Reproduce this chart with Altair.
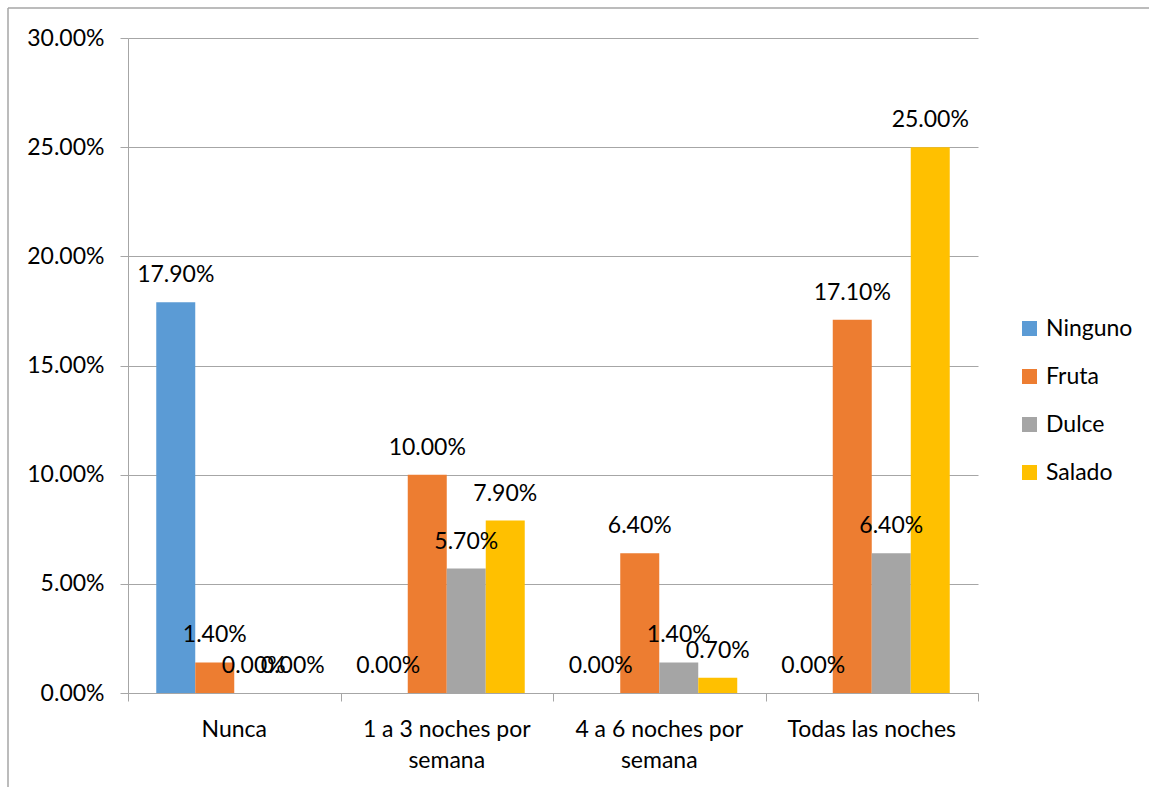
import altair as alt
import pandas as pd

# Frecuencia de consumo nocturno por tipo de alimento
categorias = ["Nunca", "1 a 3 noches por semana", "4 a 6 noches por semana", "Todas las noches"]
etiquetas_categoria = ["Nunca", "1 a 3 noches por|semana", "4 a 6 noches por|semana", "Todas las noches"]
series = ["Ninguno", "Fruta", "Dulce", "Salado"]
ninguno = [0.179, 0.0, 0.0, 0.0]
fruta = [0.014, 0.100, 0.064, 0.171]
dulce = [0.0, 0.057, 0.014, 0.064]
salado = [0.0, 0.079, 0.007, 0.250]
colores = ["#5B9BD5", "#ED7D31", "#A5A5A5", "#FFC000"]

rows = []
for serie, valores in zip(series, [ninguno, fruta, dulce, salado]):
    for cat, v in zip(categorias, valores):
        rows.append({"categoria": cat, "serie": serie, "valor": v})
df = pd.DataFrame(rows)
df_cat = pd.DataFrame({"categoria": categorias, "etiqueta": etiquetas_categoria})
df_marco = pd.DataFrame({"k": [0]})

FONT = "Lato"
FS = 23
GRAY = "#a6a6a6"

x_enc = alt.X(
    "categoria:N",
    sort=categorias,
    title=None,
    scale=alt.Scale(paddingInner=0, paddingOuter=0),
    axis=alt.Axis(
        labels=False,
        tickBand="extent",
        tickSize=8,
        tickColor=GRAY,
        domainColor=GRAY,
        grid=False,
    ),
)
# bars fill the middle of each category band, leaving Excel-style gaps
xoff = alt.XOffset("serie:N", sort=series, scale=alt.Scale(paddingInner=0, paddingOuter=0.7244))
y_enc = alt.Y(
    "valor:Q",
    title=None,
    scale=alt.Scale(domain=[0, 0.30], nice=False),
    axis=alt.Axis(
        values=[0, 0.05, 0.10, 0.15, 0.20, 0.25, 0.30],
        format=".2%",
        labelFont=FONT,
        labelFontSize=FS,
        labelColor="#000000",
        labelPadding=16,
        tickSize=8,
        tickColor=GRAY,
        domainColor=GRAY,
        gridColor=GRAY,
        gridWidth=1,
    ),
)

bars = alt.Chart(df).mark_bar().encode(
    x=x_enc,
    xOffset=xoff,
    y=y_enc,
    color=alt.Color(
        "serie:N",
        sort=series,
        scale=alt.Scale(domain=series, range=colores),
        legend=alt.Legend(
            title=None,
            orient="none",
            legendX=890,
            legendY=279,
            symbolType="square",
            symbolSize=225,
            symbolStrokeWidth=0,
            labelFont=FONT,
            labelFontSize=FS,
            labelColor="#000000",
            rowPadding=24,
            labelOffset=5,
        ),
    ),
)

labels = alt.Chart(df).mark_text(
    font=FONT, fontSize=FS, color="#000000", dy=-27, baseline="middle", align="center"
).encode(
    x=alt.X("categoria:N", sort=categorias),
    xOffset=alt.XOffset("serie:N", sort=series),
    y=alt.Y("valor:Q"),
    text=alt.Text("valor:Q", format=".2%"),
)

# category names under the x axis, wrapped on two lines where needed
cat_labels = alt.Chart(df_cat).mark_text(
    font=FONT, fontSize=FS, color="#000000", baseline="top", align="center",
    lineBreak="|", lineHeight=31,
).encode(
    x=alt.X("categoria:N", sort=categorias),
    y=alt.value(681),
    text="etiqueta:N",
)

frame_top = alt.Chart(df_marco).mark_rule(color=GRAY, strokeWidth=1.5).encode(
    x=alt.value(-120), x2=alt.value(1100), y=alt.value(-30)
)
frame_left = alt.Chart(df_marco).mark_rule(color=GRAY, strokeWidth=1.5).encode(
    x=alt.value(-120), y=alt.value(-30), y2=alt.value(760)
)

chart = (
    alt.layer(bars, labels, cat_labels, frame_top, frame_left)
    .properties(
        width=850,
        height=655,
        autosize=alt.AutoSizeParams(type="none"),
        padding={"left": 128, "top": 38, "right": 171, "bottom": 94},
    )
    .configure_view(stroke=None)
)

chart.save("out.html", embed_options={"renderer": "svg", "actions": False})
